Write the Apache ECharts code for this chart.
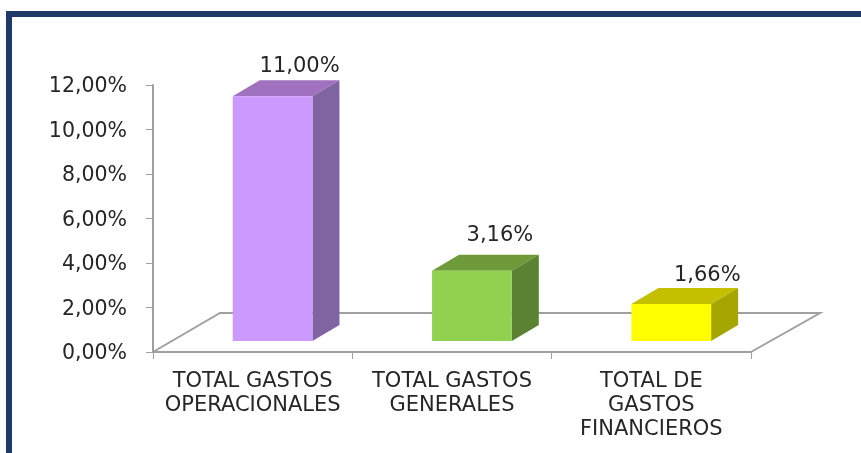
<!DOCTYPE html>
<html>
<head>
<meta charset="utf-8">
<style>html,body{margin:0;padding:0;background:#fff}#c{width:861px;height:453px}</style>
<script src="https://cdn.jsdelivr.net/npm/echarts@6/dist/echarts.min.js"></script>
</head>
<body>
<div id="c"></div>
<script>
const categories = ['TOTAL GASTOS\nOPERACIONALES', 'TOTAL GASTOS\nGENERALES', 'TOTAL DE\nGASTOS\nFINANCIEROS'];
const values = [11.00, 3.16, 1.66];
const frontColors = ['#CC99FF', '#92D050', '#FFFF00'];
const topColors = ['#9F71BE', '#6F9A3A', '#C4C000'];
const sideColors = ['#8064A2', '#5A8232', '#A6A600'];
const labelDx = [27, 28, 36];
const labelDy = [-30, -35, -29];

const FONT = '"DejaVu Sans"';
const fmt = v => v.toFixed(2).replace('.', ',') + '%';
const chart = echarts.init(document.getElementById('c'), null, {renderer: 'canvas'});

function poly(points, fill, z2) {
  return {type: 'polygon', z2, shape: {points}, style: {fill, stroke: null}};
}

chart.setOption({
  animation: false,
  backgroundColor: '#fff',
  grid: {left: 153, right: 110, top: 85, bottom: 101, containLabel: false},
  graphic: [
    {type: 'rect', shape: {x: 6, y: 11, width: 855, height: 6}, style: {fill: '#1F3A68'}},
    {type: 'rect', shape: {x: 6, y: 11, width: 6, height: 442}, style: {fill: '#1F3A68'}}
  ],
  xAxis: {
    type: 'category',
    data: categories,
    axisLine: {lineStyle: {color: '#A0A0A0', width: 2}},
    axisTick: {show: true, length: 7, alignWithLabel: false, lineStyle: {color: '#A0A0A0', width: 1}},
    axisLabel: {interval: 0, margin: 18, fontFamily: FONT, fontSize: 21, lineHeight: 24, color: '#262626'}
  },
  yAxis: {
    type: 'value',
    min: 0,
    max: 12,
    interval: 2,
    splitLine: {show: false},
    axisLine: {show: true, lineStyle: {color: '#A0A0A0', width: 2}},
    axisTick: {show: true, length: 7, lineStyle: {color: '#A0A0A0', width: 1}},
    axisLabel: {margin: 26, verticalAlign: 'top', lineHeight: 4, fontFamily: FONT, fontSize: 20.5, color: '#262626', formatter: v => fmt(v)}
  },
  series: [
    {
      type: 'custom',
      silent: true,
      z: 1,
      clip: false,
      data: [[0, 0]],
      encode: {x: 0, y: 1},
      renderItem: (params, api) => {
        const g = params.coordSys;
        const y0 = g.y + g.height, x0 = g.x, x1 = g.x + g.width;
        return {
          type: 'polyline',
          shape: {points: [[x0, y0], [x0 + 67, y0 - 39], [x1 + 69, y0 - 39], [x1, y0]]},
          style: {fill: null, stroke: '#A0A0A0', lineWidth: 2}
        };
      }
    },
    {
      type: 'custom',
      silent: true,
      z: 3,
      clip: false,
      data: values.map((v, i) => [i, v]),
      encode: {x: 0, y: 1},
      renderItem: (params, api) => {
        const i = params.dataIndex;
        const v = api.value(1);
        const c = api.coord([api.value(0), v]);
        const base = api.coord([api.value(0), 0]);
        const band = api.size([1, 0])[0];
        const w = band * 0.4;
        const l = c[0] + band * 0.1 - w / 2;
        const r = l + w;
        const b = base[1] - 11;
        const t = c[1] - 11;
        const dx = 27, dy = -16;
        return {
          type: 'group',
          children: [
            poly([[l, t], [r, t], [r + dx, t + dy], [l + dx, t + dy]], topColors[i], 1),
            poly([[r, t], [r + dx, t + dy], [r + dx, b + dy], [r, b]], sideColors[i], 1),
            poly([[l, t], [r, t], [r, b], [l, b]], frontColors[i], 2),
            {
              type: 'text',
              z2: 3,
              style: {
                x: (l + r) / 2 + labelDx[i],
                y: t + labelDy[i],
                text: fmt(v),
                fontFamily: FONT,
                fontSize: 21,
                fill: '#262626',
                align: 'center',
                verticalAlign: 'middle'
              }
            }
          ]
        };
      }
    }
  ]
});
</script>
</body>
</html>
